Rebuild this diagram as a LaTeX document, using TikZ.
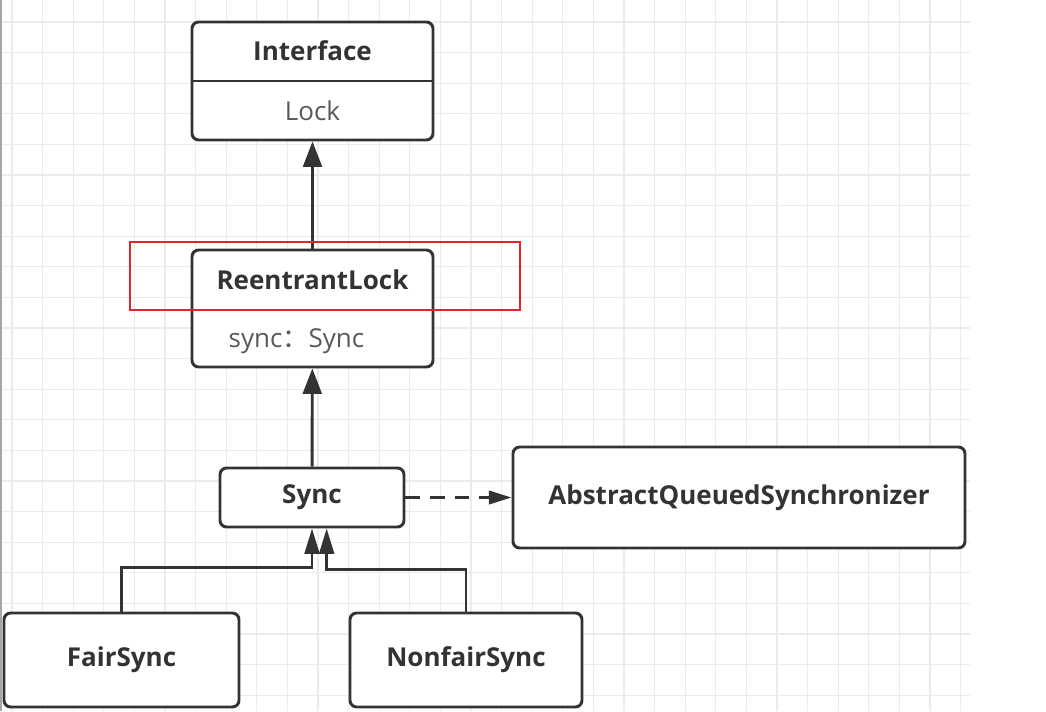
\documentclass[tikz,border=0pt]{standalone}
\usepackage{fontspec}
\setmainfont{Open Sans}
\newfontfamily\cjk{Noto Sans CJK SC}
\usetikzlibrary{arrows.meta,positioning}
\definecolor{ink}{HTML}{333333}
\definecolor{soft}{HTML}{5A5A5A}
\definecolor{gridline}{HTML}{EBEBEB}
\definecolor{hilite}{HTML}{E3242B}

\begin{document}
\begin{tikzpicture}[
    x=0.75pt, y=-0.75pt,
    classbox/.style={rectangle, draw=ink, line width=2.2pt, fill=white, rounded corners=5pt, inner sep=0pt},
    title/.style={font=\fontsize{19.5}{22}\selectfont\bfseries, text=ink},
    attr/.style={font=\fontsize{19.5}{22}\selectfont, text=soft},
    inherit/.style={draw=ink, line width=2.2pt, -{Triangle[length=19pt, width=14pt]}},
    inherit2/.style={draw=ink, line width=2.2pt, -{Triangle[length=19pt, width=11pt]}},
    depend/.style={draw=ink, line width=2.2pt, dash pattern=on 11pt off 7.5pt, -{Triangle[length=17pt, width=10pt]}}
]
    \useasboundingbox (0,0) rectangle (1046,711);

    % Background grid
    \foreach \gx in {0,...,31}
        \draw[gridline, line width=1pt] ({12+30.6*\gx},0) -- ({12+30.6*\gx},711);
    \foreach \gy in {0,...,22}
        \draw[gridline, line width=1pt] (0,{22+30.6*\gy}) -- (970,{22+30.6*\gy});
    \draw[gray!70, line width=1.2pt] (0.8,0) -- (0.8,711);

    % Interface
    \node[classbox, minimum width=180.75pt, minimum height=88.5pt] (iface) at (312.5,81) {};
    \draw[ink, line width=2.2pt] (iface.west) -- (iface.east);
    \node[title] (ifaceName) at (312.5,51) {Interface};
    \node[attr] (ifaceLock) at (312.5,111) {Lock};

    % ReentrantLock
    \node[classbox, minimum width=180.75pt, minimum height=87.75pt] (rlock) at (312.5,308.5) {};
    \node[title] (rlockName) at (312.5,280) {ReentrantLock};
    \node[attr, anchor=west] (rlockSync) at (224,341) {sync{\cjk ：}Sync};

    % Sync and its neighbours
    \node[classbox, title, minimum width=138pt, minimum height=44.25pt] (sync) at (312,497.5) {Sync};
    \node[classbox, title, minimum width=339pt, minimum height=75.75pt] (aqs) at (739,497.5) {AbstractQueuedSynchronizer};
    \node[classbox, title, minimum width=176.25pt, minimum height=70.5pt] (fair) at (121.5,660) {FairSync};
    \node[classbox, title, minimum width=174pt, minimum height=70.5pt] (nonfair) at (466,660) {NonfairSync};

    % Arrows
    \draw[inherit] (rlock) -- (iface);
    \draw[inherit] (sync) -- (rlock);
    \draw[depend] (sync) -- (aqs);
    \draw[inherit2] (fair.north) -- ++(0,-44) -| (sync.south);
    \draw[inherit2] (nonfair.north) -- ++(0,-42) -| ([xshift=11pt]sync.south);

    % Highlight
    \draw[hilite, line width=1.5pt] (130,242) rectangle (520,310);
\end{tikzpicture}
\end{document}
